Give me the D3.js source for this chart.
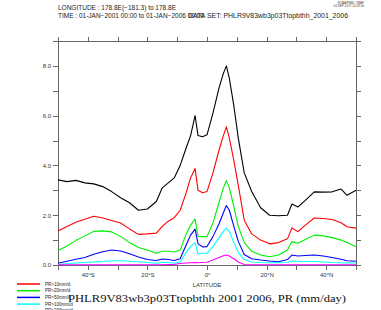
<!DOCTYPE html>
<html>
<head>
<meta charset="utf-8">
<title>PR zonal mean</title>
<script src="https://cdn.jsdelivr.net/npm/d3@7"></script>
<style>
body { margin: 0; background: #fff; }
svg { display: block; font-family: "Liberation Sans", Arial, sans-serif; }
.axis path, .axis line { stroke: #666; shape-rendering: crispEdges; }
.axis text { fill: #333; font-size: 6px; }
.series { fill: none; stroke-width: 1.1px; stroke-linejoin: round; }
</style>
</head>
<body>
<script>

var width = 381, height = 310;

// latitude (deg), shared by every series
var lats = [-50,-47,-44,-41,-38,-35,-32,-29,-26,-23,-20,-17,-15,-13,-11,-9,-7,-5.5,-4,-3,-1.5,0,
            2,4,5.5,6.5,7.5,9,10.5,12.5,15,18,21,24,27,28.5,30.5,33,36,39,42,45,47,50];

// mean PR (mm/day)
var prAll = [3.42,3.35,3.4,3.3,3.26,3.15,2.95,2.7,2.5,2.2,2.25,2.55,3.1,3.3,3.5,4.0,4.7,5.2,6.0,5.2,5.15,5.23,
             6.1,7.1,7.7,8.0,7.5,6.4,5.1,3.7,2.95,2.3,2.0,1.98,2.0,2.45,2.33,2.6,2.94,2.93,2.94,3.05,2.8,3.0];
var prGt10 = [1.37,1.55,1.72,1.84,1.96,1.89,1.79,1.69,1.45,1.23,1.25,1.28,1.55,1.76,1.9,2.2,2.9,3.5,3.88,3.0,2.9,2.95,
              3.7,4.6,5.2,5.55,5.1,4.2,3.2,1.8,1.25,1.0,0.85,0.9,1.05,1.49,1.34,1.6,1.89,1.87,1.83,1.7,1.54,1.48];
var prGt20 = [0.58,0.76,0.98,1.17,1.35,1.37,1.33,1.15,0.9,0.7,0.6,0.47,0.55,0.55,0.52,0.6,1.25,1.6,1.85,1.15,1.14,1.14,
              1.69,2.5,3.1,3.39,3.1,2.35,1.55,0.9,0.55,0.4,0.33,0.4,0.6,0.94,0.87,1.02,1.2,1.17,1.1,1.0,0.9,0.73];
var prGt50 = [0.07,0.15,0.23,0.3,0.43,0.53,0.6,0.56,0.45,0.32,0.22,0.18,0.24,0.22,0.18,0.25,0.8,1.2,1.44,0.85,0.73,0.74,
              1.14,1.65,2.1,2.39,2.2,1.55,0.95,0.42,0.25,0.2,0.16,0.13,0.22,0.4,0.36,0.38,0.4,0.36,0.3,0.23,0.17,0.15];
var prGt100 = [0.02,0.05,0.08,0.1,0.12,0.14,0.17,0.17,0.15,0.13,0.1,0.07,0.1,0.1,0.07,0.12,0.5,0.75,0.9,0.45,0.47,0.47,
               0.74,1.08,1.35,1.48,1.34,0.9,0.5,0.22,0.12,0.1,0.09,0.09,0.1,0.16,0.15,0.14,0.14,0.12,0.1,0.09,0.08,0.08];
var prGt200 = [0.01,0.01,0.01,0.01,0.01,0.01,0.01,0.01,0.01,0.01,0.01,0.01,0.01,0.02,0.02,0.06,0.08,0.09,0.1,0.09,0.1,0.11,
               0.2,0.3,0.37,0.4,0.36,0.25,0.12,0.02,0.01,0.01,0.01,0.01,0.01,0.01,0.01,0.01,0.01,0.01,0.01,0.01,0.01,0.01];

var seriesNames = ["PR", "PR>10mm/d", "PR>20mm/d", "PR>50mm/d", "PR>100mm/d", "PR>200mm/d"];
var seriesColors = ["#000000", "#ff0000", "#00ee00", "#0000ff", "#00ffff", "#ff00ff"];
var seriesValues = [prAll, prGt10, prGt20, prGt50, prGt100, prGt200];

var xTicks = [-50,-40,-30,-20,-10,0,10,20,30,40,50];

var svg = d3.select("body").append("svg")
    .attr("width", width)
    .attr("height", height);

var x = d3.scaleLinear().domain([-50, 50]).range([58, 356]);
var y = d3.scaleLinear().domain([0, 9]).range([265, 41]);

function latLabel(d) {
	if (d % 20 !== 0) return "";
	if (d === 0) return "0°";
	return Math.abs(d) + "°" + (d < 0 ? "S" : "N");
}

// axes on all four sides, ticks pointing out
svg.append("g").attr("class", "axis")
	.attr("transform", "translate(0," + y(0) + ")")
	.call(d3.axisBottom(x).tickValues(xTicks).tickSize(5).tickPadding(3).tickFormat(latLabel));
svg.append("g").attr("class", "axis")
	.attr("transform", "translate(0," + y(9) + ")")
	.call(d3.axisTop(x).tickValues(xTicks).tickSize(4).tickFormat(""));
svg.append("g").attr("class", "axis")
	.attr("transform", "translate(" + x(-50) + ",0)")
	.call(d3.axisLeft(y).tickValues(d3.range(0, 10, 1)).tickSize(5).tickPadding(2)
		.tickFormat(function(d) { return d % 2 === 0 && d < 9 ? d3.format(".1f")(d) : ""; }));
svg.append("g").attr("class", "axis")
	.attr("transform", "translate(" + x(50) + ",0)")
	.call(d3.axisRight(y).tickValues(d3.range(0, 10, 1)).tickSize(5).tickFormat(""));

svg.selectAll(".axis .domain").attr("d", null);
svg.append("rect")
	.attr("x", x(-50)).attr("y", y(9))
	.attr("width", x(50) - x(-50)).attr("height", y(0) - y(9))
	.attr("fill", "none").attr("stroke", "#666").attr("shape-rendering", "crispEdges");

svg.append("text")
	.attr("x", x(0)).attr("y", 287)
	.attr("text-anchor", "middle")
	.attr("font-size", "6px").attr("fill", "#333")
	.text("LATITUDE");

var line = d3.line()
	.x(function(d, i) { return x(lats[i]); })
	.y(function(d) { return y(d); });

svg.append("g").selectAll("path")
	.data(seriesValues)
	.enter().append("path")
	.attr("class", "series")
	.attr("stroke", function(d, i) { return seriesColors[i]; })
	.attr("stroke-width", function(d, i) { return i === 5 ? 1.6 : 1.1; })
	.attr("d", line);

// legend (black series has no entry)
var legend = svg.append("g");
seriesNames.slice(1).forEach(function(name, i) {
	var ly = 284 + i * 6.7;
	legend.append("line")
		.attr("x1", 17).attr("x2", 40).attr("y1", ly).attr("y2", ly)
		.attr("stroke", seriesColors[i + 1]).attr("stroke-width", 1.5);
	legend.append("text")
		.attr("x", 45).attr("y", ly + 1.6)
		.attr("font-size", "4.5px").attr("fill", "#222")
		.text(name);
});

// header
svg.append("text").attr("x", 58).attr("y", 10)
	.attr("font-size", "6.5px").attr("fill", "#222")
	.text("LONGITUDE : 178.8E(\u2212181.3) to 178.8E");
svg.append("text").attr("x", 58).attr("y", 18)
	.attr("font-size", "6.5px").attr("fill", "#222")
	.text("TIME : 01-JAN\u22122001 00:00 to 01-JAN\u22122006 00:00");
svg.append("text").attr("x", 188).attr("y", 17.5)
	.attr("font-size", "6.5px").attr("fill", "#222")
	.attr("textLength", 160).attr("lengthAdjust", "spacingAndGlyphs")
	.text("DATA SET: PHLR9V83wb3p03Ttopbthh_2001_2006");
svg.append("text").attr("x", 364).attr("y", 3.5)
	.attr("text-anchor", "end").attr("font-size", "3px").attr("fill", "#444")
	.text("NOAA/PMEL TMAP");
svg.append("text").attr("x", 364).attr("y", 7)
	.attr("text-anchor", "end").attr("font-size", "3px").attr("fill", "#444")
	.text("04-SEP-2017 14:28:04");

// title
svg.append("text").attr("x", 68).attr("y", 302)
	.attr("font-family", "'Liberation Serif', 'DejaVu Serif', serif")
	.attr("font-size", "11px").attr("fill", "#111")
	.attr("textLength", 278).attr("lengthAdjust", "spacingAndGlyphs")
	.text("PHLR9V83wb3p03Ttopbthh 2001 2006, PR (mm/day)");

</script>
</body>
</html>
